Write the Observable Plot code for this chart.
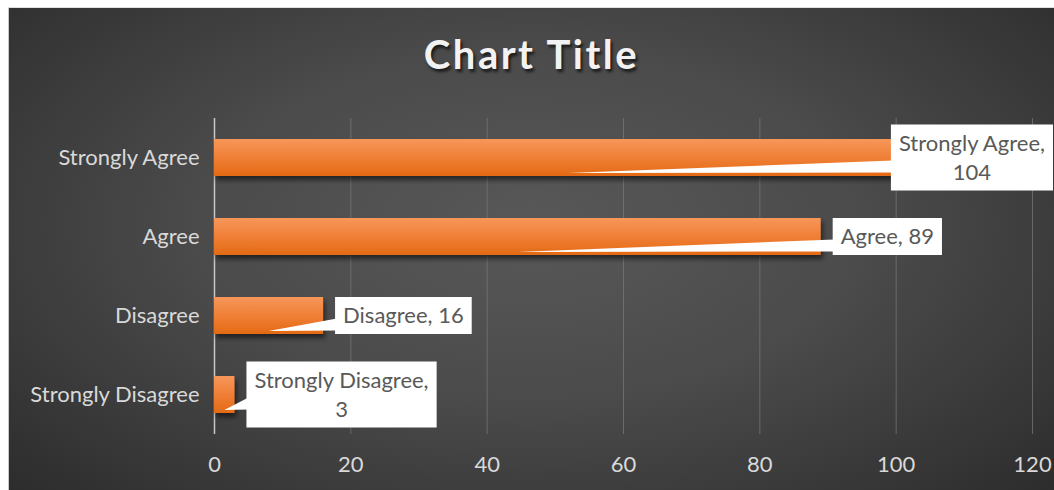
<!DOCTYPE html>
<html><head><meta charset="utf-8">
<script src="https://cdn.jsdelivr.net/npm/d3@7"></script>
<script src="https://cdn.jsdelivr.net/npm/@observablehq/plot@0.6"></script>
<style>
html,body{margin:0;padding:0;background:#fff;}
#frame{position:absolute;left:8px;top:7px;width:1046px;height:483px;overflow:hidden;
  background:radial-gradient(ellipse 70% 80% at 50% 45%, #585858 0%, #4b4b4b 45%, #2c2c2c 100%);
  border-left:1px solid #c8c8c8;border-top:1px solid #e0e0e0;box-sizing:border-box;
  font-family:Lato, "Open Sans", sans-serif;}
#title{height:87px;box-sizing:border-box;padding-top:22px;text-align:center;font-size:40px;line-height:48px;
  font-weight:700;color:#f2f2f2;letter-spacing:2.5px;text-shadow:2px 3px 3px rgba(0,0,0,0.65);}
#chart svg{display:block;overflow:visible;}
</style></head>
<body><div id="frame"><div id="title">Chart Title</div><div id="chart"></div></div>
<script>
const categories = ["Strongly Agree", "Agree", "Disagree", "Strongly Disagree"];
const values = [104, 89, 16, 3];
const xTicks = [0, 20, 40, 60, 80, 100, 120];

const data = categories.map((c, i) => ({category: c, value: values[i]}));

const W = 1045, H = 396;
const chart = Plot.plot({
  width: W, height: H,
  marginLeft: 205, marginRight: 22, marginTop: 23, marginBottom: 57,
  style: {background: "transparent", color: "#d9d9d9", fontSize: "22px", fontFamily: "Lato, 'Open Sans', sans-serif"},
  x: {domain: [0, 120], ticks: xTicks},
  y: {domain: categories, paddingInner: 0.53, paddingOuter: 0.265},
  marks: [
    Plot.gridX(xTicks, {stroke: "#7a7a7a", strokeOpacity: 0.7, strokeWidth: 1}),
    Plot.ruleX([0], {stroke: "#c8c8c8", strokeWidth: 1.5}),
    Plot.barX(data, {x: "value", y: "category", fill: "url(#barGrad)", className: "bars"}),
    Plot.axisX({ticks: xTicks, tickSize: 0, tickPadding: 22, label: null}),
    Plot.axisY({tickSize: 0, tickPadding: 15, label: null})
  ]
});
document.getElementById("chart").appendChild(chart);

const svg = d3.select(chart);
const defs = svg.insert("defs", ":first-child");
const g = defs.append("linearGradient").attr("id", "barGrad").attr("x1", 0).attr("x2", 0).attr("y1", 0).attr("y2", 1);
g.append("stop").attr("offset", "0%").attr("stop-color", "#f6975a");
g.append("stop").attr("offset", "55%").attr("stop-color", "#ef7d33");
g.append("stop").attr("offset", "100%").attr("stop-color", "#e36a14");
const f = defs.append("filter").attr("id", "shadow").attr("x", "-5%").attr("y", "-30%").attr("width", "115%").attr("height", "180%");
f.append("feDropShadow").attr("dx", 2).attr("dy", 4).attr("stdDeviation", 2.5).attr("flood-color", "#000").attr("flood-opacity", 0.55);
svg.selectAll("g.bars, g[aria-label='bar']").attr("filter", "url(#shadow)");

// callouts positioned with the plot's own scales
const sx = chart.scale("x"), sy = chart.scale("y");
const xAt = v => sx.apply(v);
const bw = sy.bandwidth;
const layer = svg.append("g").attr("class", "callouts");
const fs = 22, lineH = 29, padX = 8, padV = 4;
data.forEach(d => {
  const full = `${d.category}, ${d.value}`;
  const lines = full.length > 15 ? [`${d.category},`, `${d.value}`] : [full];
  const ex = xAt(d.value);
  const top = sy.apply(d.category);
  const cy = top + bw / 2;
  const grp = layer.append("g");
  const wedge = grp.append("path").attr("fill", "#fff");
  const rect = grp.append("rect").attr("fill", "#fff");
  const texts = lines.map((t, i) => grp.append("text").text(t)
    .attr("fill", "#595959").attr("font-size", fs).attr("text-anchor", "middle")
    .attr("font-family", "Lato, 'Open Sans', sans-serif"));
  const tw = Math.max(...texts.map(t => t.node().getComputedTextLength()));
  const bwid = tw + 2 * padX, bh = lines.length * lineH + 2 * padV;
  let left = ex + 12;
  if (left + bwid > W - 1) left = W - 1 - bwid;
  const btop = cy - bh / 2;
  rect.attr("x", left).attr("y", btop).attr("width", bwid).attr("height", bh);
  texts.forEach((t, i) => t.attr("x", left + bwid / 2).attr("y", btop + padV + lineH * i + lineH / 2).attr("dy", "0.35em"));
  const tipX = xAt(d.value / 2), tipY = top + bw - 3;
  wedge.attr("d", `M${tipX},${tipY}L${left + 2},${cy + 3}L${left + 2},${cy + 15}Z`);
});
</script>
</body></html>
